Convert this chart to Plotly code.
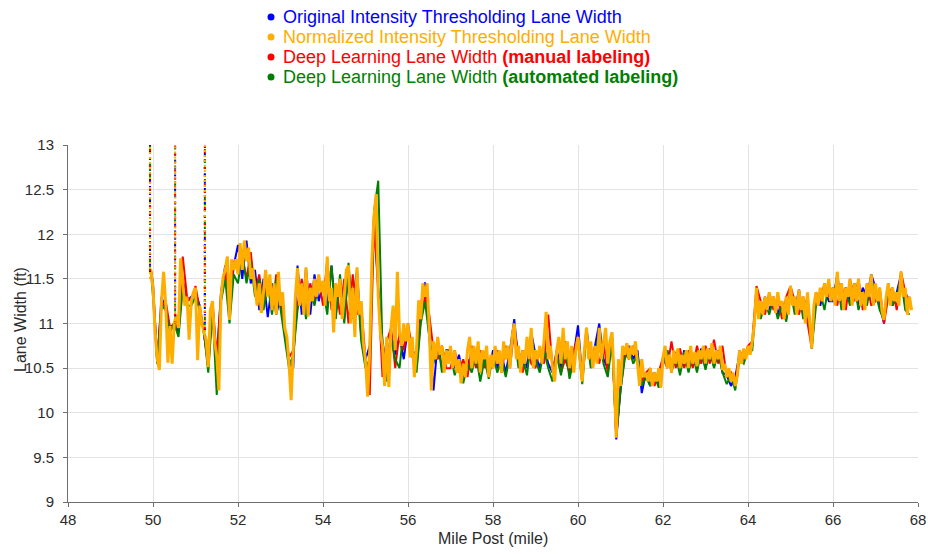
import numpy as np
import plotly.graph_objects as go

# Mile posts: the normalized series is sampled every 0.05 mile, the other three every 0.1 mile
MILE_FINE = np.round(np.concatenate([[49.95], np.arange(50.0, 67.851, 0.05)]), 2)
MILE_COARSE = np.round(np.concatenate([[49.95], np.arange(50.0, 67.81, 0.1)]), 2)

# Normalized intensity thresholding lane width (ft), 0.05-mile spacing
NORMALIZED_FT = [
    11.6,
    11.4, 10.9, 10.6, 10.48, 11.25, 11.58, 11.2, 10.56, 10.97, 10.55, 11.0, 11.1, 10.95, 11.73, 11.45, 11.2, 11.3, 10.82, 11.25, 11.35,
    11.4, 10.59, 11.2, 11.0, 10.9, 10.82, 10.51, 11.15, 11.25, 10.8, 10.63, 10.25, 11.3, 11.52, 11.6, 11.75, 11.04, 11.72, 11.6, 11.72,
    11.55, 11.9, 11.6, 11.93, 11.7, 11.85, 11.5, 11.62, 11.4, 11.2, 11.45, 11.12, 11.35, 11.6, 11.3, 11.55, 11.15, 11.45, 11.1, 11.58,
    11.2, 11.35, 10.95, 10.85, 10.55, 10.14, 10.7, 11.3, 11.62, 11.2, 11.45, 11.1, 11.63, 11.08, 11.4, 11.25, 11.5, 11.3, 11.55, 11.35,
    11.48, 11.2, 11.75, 11.25, 11.4, 10.9, 11.45, 11.3, 11.5, 11.05, 11.3, 11.6, 11.65, 11.0, 11.4, 10.85, 11.63, 11.1, 11.25, 10.78,
    10.59, 10.18, 10.7, 11.7, 12.2, 12.45, 11.3, 10.9, 10.75, 10.3, 10.85, 10.29, 10.95, 11.2, 10.7, 11.58, 10.9, 10.75, 11.0, 10.8,
    11.0, 10.62, 10.85, 10.4, 10.7, 11.26, 11.05, 11.45, 11.3, 11.45, 10.95, 10.25, 10.8, 10.6, 10.85, 10.65, 10.75, 10.45, 10.7, 10.55,
    10.75, 10.5, 10.7, 10.45, 10.6, 10.33, 10.55, 10.4, 10.7, 10.85, 10.5, 10.75, 10.55, 10.8, 10.45, 10.7, 10.6, 10.75, 10.4, 10.65,
    10.5, 10.75, 10.55, 10.7, 10.45, 10.8, 10.6, 10.75, 10.5, 10.85, 11.0, 10.6, 10.75, 10.45, 10.7, 10.55, 10.85, 10.6, 10.95, 10.5,
    10.7, 10.6, 10.75, 10.55, 10.8, 11.13, 10.6, 10.75, 10.5, 10.35, 10.7, 10.85, 10.55, 10.95, 10.6, 10.8, 10.5, 10.75, 10.45, 10.7,
    10.85, 10.55, 10.35, 10.7, 10.95, 10.6, 10.8, 10.5, 10.75, 10.55, 10.95, 10.6, 10.75, 10.95, 10.55, 10.8, 10.9, 10.4, 9.72, 10.6,
    10.3, 10.75, 10.65, 10.78, 10.6, 10.75, 10.65, 10.8, 10.55, 10.3, 10.6, 10.4, 10.45, 10.35, 10.5, 10.3, 10.45, 10.35, 10.5, 10.28,
    10.62, 10.75, 10.5, 10.65, 10.45, 10.7, 10.55, 10.72, 10.5, 10.65, 10.55, 10.7, 10.5, 10.75, 10.55, 10.68, 10.52, 10.7, 10.6, 10.75,
    10.55, 10.72, 10.6, 10.78, 10.55, 10.7, 10.6, 10.75, 10.48, 10.55, 10.4, 10.5, 10.35, 10.45, 10.3, 10.42, 10.7, 10.55, 10.72, 10.6,
    10.75, 10.65, 10.8, 11.0, 11.4, 11.05, 11.25, 11.1, 11.3, 11.15, 11.35, 11.2, 11.3, 11.12, 11.35, 11.2, 11.25, 11.05, 11.3, 11.1,
    11.42, 11.2, 11.3, 11.1, 11.38, 11.15, 11.3, 11.0, 11.35, 11.05, 10.72, 11.2, 11.35, 11.2, 11.4, 11.25, 11.45, 11.3, 11.5, 11.25,
    11.4, 11.2, 11.58, 11.25, 11.45, 11.15, 11.4, 11.3, 11.5, 11.2, 11.45, 11.25, 11.5, 11.2, 11.35, 11.15, 11.45, 11.3, 11.55, 11.2,
    11.45, 11.25, 11.4, 11.15, 11.04, 11.3, 11.45, 11.2, 11.4, 11.25, 11.35, 11.2, 11.58, 11.3, 11.4, 11.1, 11.3, 11.15,
]

# Original intensity thresholding lane width (ft), 0.1-mile spacing
ORIGINAL_FT = [
    11.6,
    11.45, 10.55, 11.3, 11.15, 10.95, 11.0, 10.9, 11.5, 11.25, 11.3,
    11.35, 11.2, 10.9, 10.55, 11.2, 10.6, 11.35, 11.65, 11.1, 11.65,
    11.88, 11.5, 11.93, 11.45, 11.6, 11.15, 11.5, 11.07, 11.45, 11.1,
    11.3, 10.9, 10.6, 10.5, 11.65, 11.1, 11.62, 11.1, 11.55, 11.25,
    11.45, 11.2, 11.65, 11.1, 11.5, 11.05, 11.6, 11.2, 11.6, 10.85,
    10.6, 10.75, 12.2, 11.4, 10.8, 10.5, 10.9, 10.65, 10.85, 10.6,
    10.95, 10.62, 10.7, 11.2, 11.46, 10.9, 10.25, 10.8, 10.5, 10.7,
    10.7, 10.5, 10.65, 10.4, 10.6, 10.5, 10.7, 10.45, 10.65, 10.45,
    10.7, 10.5, 10.65, 10.45, 10.7, 11.05, 10.55, 10.7, 10.5, 10.9,
    10.65, 10.5, 10.75, 10.55, 10.45, 10.7, 10.5, 10.8, 10.45, 10.65,
    10.98, 10.4, 10.95, 10.55, 10.75, 11.0, 10.6, 10.5, 10.9, 9.7,
    10.25, 10.65, 10.75, 10.6, 10.7, 10.22, 10.45, 10.3, 10.45, 10.3,
    10.57, 10.7, 10.5, 10.68, 10.5, 10.7, 10.48, 10.65, 10.5, 10.72,
    10.5, 10.72, 10.52, 10.7, 10.45, 10.42, 10.3, 10.4, 10.65, 10.58,
    10.7, 10.75, 11.35, 11.1, 11.3, 11.15, 11.3, 11.1, 11.25, 11.05,
    11.4, 11.15, 11.38, 11.1, 11.3, 10.75, 11.3, 11.2, 11.4, 11.25,
    11.25, 11.55, 11.2, 11.4, 11.25, 11.45, 11.2, 11.4, 11.3, 11.55,
    11.4, 11.2, 11.0, 11.45, 11.2, 11.35, 11.55, 11.2, 11.3,
]

# Deep learning lane width, manual labeling (ft), 0.1-mile spacing
MANUAL_DL_FT = [
    11.6,
    11.4, 10.6, 11.2, 11.25, 10.95, 11.0, 10.95, 11.75, 11.3, 11.25,
    11.42, 11.15, 10.9, 10.5, 11.25, 10.6, 11.3, 11.62, 11.05, 11.7,
    11.6, 11.75, 11.5, 11.8, 11.35, 11.55, 11.2, 11.5, 11.15, 11.55,
    11.25, 10.95, 10.62, 10.7, 11.2, 11.5, 11.1, 11.45, 11.25, 11.5,
    11.2, 11.72, 11.15, 11.45, 11.1, 11.5, 11.0, 11.55, 11.1, 11.2,
    10.6, 10.2, 12.15, 11.35, 10.4, 10.8, 10.95, 10.5, 10.9, 10.7,
    11.0, 10.7, 10.5, 11.05, 11.3, 11.1, 10.7, 10.6, 10.75, 10.5,
    10.5, 10.7, 10.45, 10.6, 10.4, 10.75, 10.5, 10.7, 10.5, 10.6,
    10.5, 10.7, 10.45, 10.75, 10.5, 10.95, 10.65, 10.45, 10.8, 10.55,
    10.5, 10.7, 10.55, 11.1, 10.5, 10.65, 10.45, 10.6, 10.45, 10.7,
    10.85, 10.35, 10.9, 10.6, 10.7, 10.55, 10.8, 10.45, 10.85, 9.72,
    10.3, 10.7, 10.6, 10.75, 10.55, 10.35, 10.45, 10.5, 10.3, 10.45,
    10.62, 10.5, 10.8, 10.5, 10.72, 10.5, 10.7, 10.5, 10.75, 10.55,
    10.75, 10.55, 10.82, 10.55, 10.75, 10.4, 10.45, 10.3, 10.7, 10.6,
    10.75, 10.8, 11.42, 11.25, 11.1, 11.35, 11.15, 11.3, 11.05, 11.3,
    11.42, 11.25, 11.1, 11.3, 11.0, 10.72, 11.35, 11.25, 11.45, 11.3,
    11.4, 11.2, 11.45, 11.15, 11.5, 11.25, 11.5, 11.15, 11.45, 11.2,
    11.25, 11.4, 11.0, 11.3, 11.4, 11.15, 11.58, 11.35, 11.25,
]

# Deep learning lane width, automated labeling (ft), 0.1-mile spacing
AUTO_DL_FT = [
    11.6,
    11.3, 10.55, 11.2, 11.15, 10.9, 11.0, 10.85, 11.4, 11.2, 11.2,
    11.3, 11.15, 10.9, 10.45, 11.15, 10.2, 11.25, 11.5, 11.0, 11.55,
    11.45, 11.8, 11.45, 11.7, 11.3, 11.5, 11.15, 11.45, 11.1, 11.5,
    11.15, 10.85, 10.5, 10.65, 11.15, 11.45, 11.05, 11.4, 11.2, 11.45,
    11.4, 11.1, 11.65, 11.05, 11.55, 11.0, 11.68, 11.05, 11.5, 10.8,
    10.5, 10.6, 12.25, 12.6, 10.7, 10.35, 10.85, 10.6, 10.5, 10.95,
    10.9, 10.75, 10.45, 11.0, 11.25, 10.85, 10.55, 10.8, 10.45, 10.65,
    10.65, 10.42, 10.6, 10.33, 10.55, 10.45, 10.65, 10.35, 10.6, 10.38,
    10.65, 10.45, 10.6, 10.4, 10.65, 10.9, 10.5, 10.6, 10.42, 10.85,
    10.6, 10.45, 10.7, 10.5, 10.35, 10.65, 10.42, 10.75, 10.38, 10.6,
    10.8, 10.32, 10.9, 10.5, 10.65, 10.9, 10.55, 10.4, 10.8, 9.75,
    10.25, 10.6, 10.72, 10.55, 10.65, 10.3, 10.4, 10.3, 10.42, 10.28,
    10.55, 10.7, 10.45, 10.65, 10.42, 10.68, 10.45, 10.65, 10.45, 10.7,
    10.48, 10.7, 10.5, 10.68, 10.45, 10.32, 10.42, 10.25, 10.6, 10.55,
    10.7, 10.7, 11.3, 11.05, 11.25, 11.1, 11.28, 11.05, 11.2, 11.02,
    11.38, 11.1, 11.35, 11.05, 11.25, 10.72, 11.2, 11.35, 11.15, 11.45,
    11.3, 11.5, 11.15, 11.4, 11.2, 11.45, 11.15, 11.35, 11.2, 11.5,
    11.35, 11.15, 11.04, 11.4, 11.2, 11.3, 11.5, 11.15, 11.1,
]

# Outlier bursts where every method reports widths far above the axis range
SPIKE_MILES = [49.93, 50.52, 51.22]
SPIKE_BASE_FT = [11.5, 11.0, 10.85]
SPIKE_TOP_FT = [15.0, 15.0, 15.0]

# Key labels: plain part and bold part of each entry
SERIES_NAMES = [
    ("Original Intensity Thresholding Lane Width", ""),
    ("Normalized Intensity Thresholding Lane Width", ""),
    ("Deep Learning Lane Width ", "(manual labeling)"),
    ("Deep Learning Lane Width ", "(automated labeling)"),
]
SERIES_COLORS = ["#0000FF", "#FFAE00", "#FF0000", "#008000"]
SPIKE_DASH = ["2px,5px", "2px,3px", "2px,6px", "2px,4px"]

assert len(NORMALIZED_FT) == len(MILE_FINE)
for s in (ORIGINAL_FT, MANUAL_DL_FT, AUTO_DL_FT):
    assert len(s) == len(MILE_COARSE)

fig = go.Figure()

# draw order: blue, red, green underneath, orange on top
draw = [
    (MILE_COARSE, ORIGINAL_FT, 0, 2),
    (MILE_COARSE, MANUAL_DL_FT, 2, 2),
    (MILE_COARSE, AUTO_DL_FT, 3, 2),
    (MILE_FINE, NORMALIZED_FT, 1, 3),
]
for xs, ys, k, w in draw:
    fig.add_trace(go.Scatter(
        x=xs, y=ys, mode="lines", name="".join(SERIES_NAMES[k]),
        line=dict(color=SERIES_COLORS[k], width=w),
        showlegend=False, hoverinfo="skip",
    ))

# vertical outlier bursts, one dotted trace per method so the colours interleave
for k in (3, 0, 2, 1):
    sx, sy = [], []
    for m, lo, hi in zip(SPIKE_MILES, SPIKE_BASE_FT, SPIKE_TOP_FT):
        sx += [m, m, None]
        sy += [lo, hi, None]
    fig.add_trace(go.Scatter(
        x=sx, y=sy, mode="lines", showlegend=False, hoverinfo="skip",
        line=dict(color=SERIES_COLORS[k], width=2, dash=SPIKE_DASH[k]),
    ))

FONT = "Arial, Liberation Sans, sans-serif"
TEXT_GREY = "#2b2b2b"
W, H = 928, 554
ML, MR, MT, MB = 68, 10, 145, 52
PW, PH = W - ML - MR, H - MT - MB


def px_x(p):
    return (p - ML) / PW


def px_y(p):
    return (H - MB - p) / PH


# Key above the plot: coloured dot and coloured label per series
annotations = []
shapes = []
for k, ((plain, bold), col) in enumerate(zip(SERIES_NAMES, SERIES_COLORS)):
    yp = px_y(17 + 20 * k)
    label = plain + (f"<b>{bold}</b>" if bold else "")
    annotations.append(dict(
        x=px_x(281), y=yp, xref="paper", yref="paper",
        xanchor="left", yanchor="middle", showarrow=False,
        text=label, font=dict(family=FONT, size=18, color=col),
    ))
    shapes.append(dict(
        type="circle", xref="paper", yref="paper",
        xsizemode="pixel", ysizemode="pixel",
        xanchor=px_x(271), yanchor=yp,
        x0=-3.5, x1=3.5, y0=-3.5, y1=3.5,
        fillcolor=col, line=dict(width=0),
    ))

# axis titles
annotations.append(dict(
    x=px_x(20), y=px_y(320), xref="paper", yref="paper",
    xanchor="center", yanchor="middle", showarrow=False, textangle=-90,
    text="Lane Width (ft)", font=dict(family=FONT, size=16, color=TEXT_GREY),
))
annotations.append(dict(
    x=px_x(493), y=px_y(538), xref="paper", yref="paper",
    xanchor="center", yanchor="middle", showarrow=False,
    text="Mile Post (mile)", font=dict(family=FONT, size=16, color=TEXT_GREY),
))

axis_common = dict(
    showgrid=True, gridcolor="#e3e3e3", gridwidth=1,
    showline=True, linecolor="#6e6e6e", linewidth=1,
    ticks="outside", ticklen=4, tickcolor="#6e6e6e",
    tickfont=dict(family=FONT, size=15, color=TEXT_GREY),
    zeroline=False, automargin=False,
)

fig.update_layout(
    width=W, height=H,
    margin=dict(l=ML, r=MR, t=MT, b=MB),
    paper_bgcolor="white", plot_bgcolor="white",
    xaxis=dict(range=[48, 68], dtick=2, tick0=48, **axis_common),
    yaxis=dict(range=[9, 13], dtick=0.5, tick0=9, ticklabelstandoff=6, **axis_common),
    annotations=annotations,
    shapes=shapes,
    showlegend=False,
)

fig.write_html("out.html")
